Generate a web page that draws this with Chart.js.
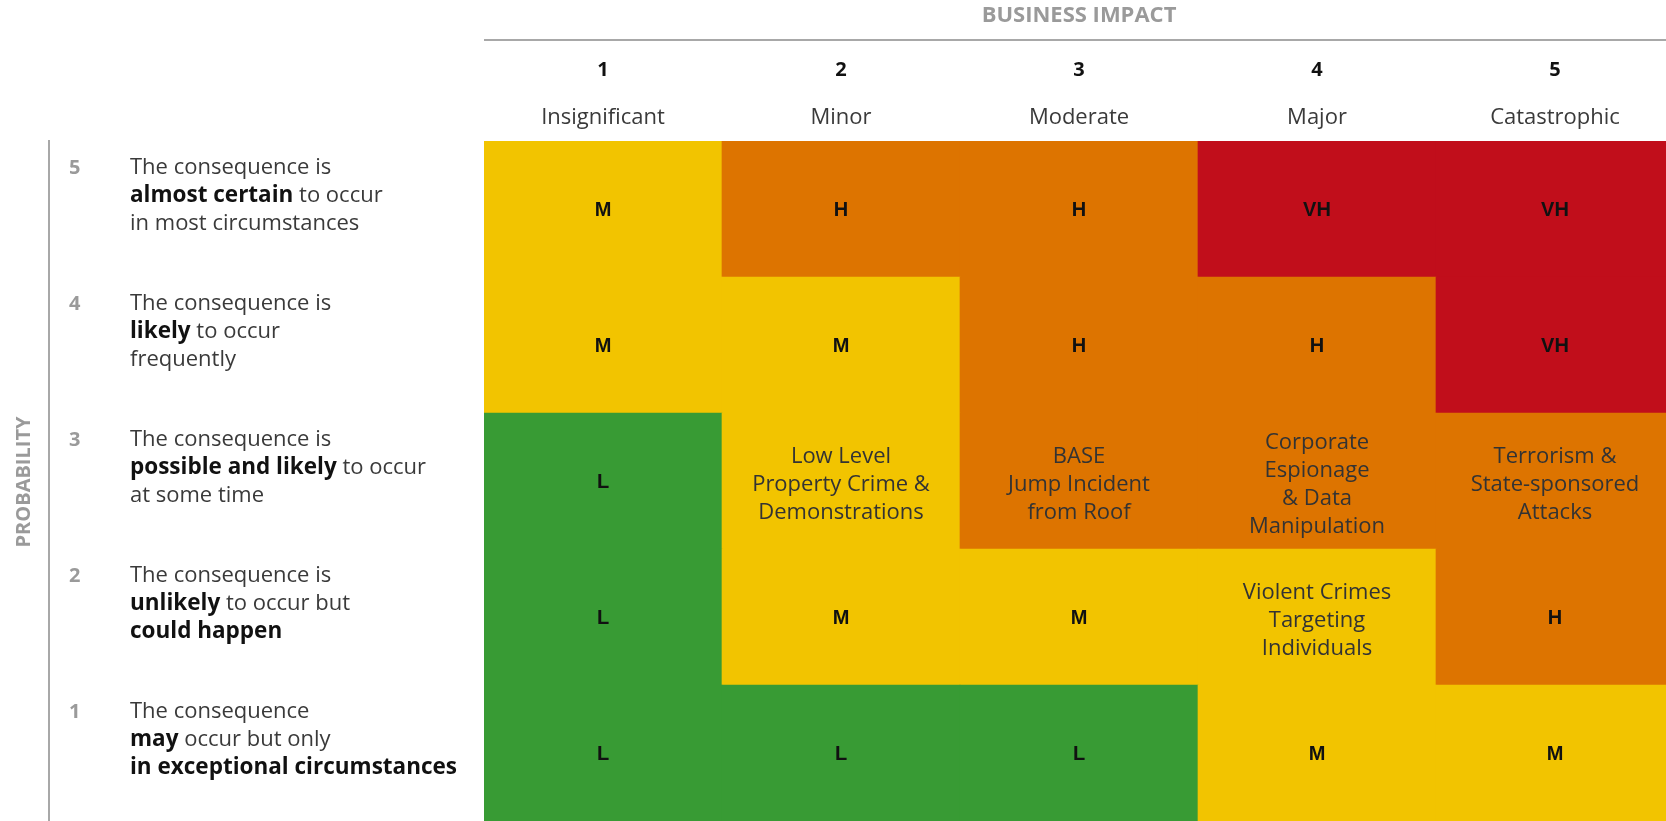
<!DOCTYPE html>
<html lang="en">
<head>
    <meta charset="UTF-8">
    <title>Risk Matrix</title>
    <script src="https://cdn.jsdelivr.net/npm/chart.js"></script>
    <style>
        body {
            margin: 0;
            background: #fff;
            overflow: hidden;
        }
        canvas {
            display: block;
        }
    </style>
</head>
<body>
    <canvas id="matriz" width="1674" height="821"></canvas>

    <script>
        // business impact (columns)
        const impactNumbers = ['1', '2', '3', '4', '5'];
        const impactNames = ['Insignificant', 'Minor', 'Moderate', 'Major', 'Catastrophic'];

        // probability (rows), 1 = bottom
        const probabilityNumbers = ['1', '2', '3', '4', '5'];
        const descP1 = ['The consequence', '**may** occur but only', '**in exceptional circumstances**'];
        const descP2 = ['The consequence is', '**unlikely** to occur but', '**could happen**'];
        const descP3 = ['The consequence is', '**possible and likely** to occur', 'at some time'];
        const descP4 = ['The consequence is', '**likely** to occur', 'frequently'];
        const descP5 = ['The consequence is', '**almost certain** to occur', 'in most circumstances'];

        // rating of each cell, one list per probability row
        const ratingsP1 = ['L', 'L', 'L', 'M', 'M'];
        const ratingsP2 = ['L', 'M', 'M', 'M', 'H'];
        const ratingsP3 = ['L', 'M', 'H', 'H', 'H'];
        const ratingsP4 = ['M', 'M', 'H', 'H', 'VH'];
        const ratingsP5 = ['M', 'H', 'H', 'VH', 'VH'];

        // scenarios written in place of the rating
        const scenariosP1 = ['', '', '', '', ''];
        const scenariosP2 = ['', '', '', 'Violent Crimes\nTargeting\nIndividuals', ''];
        const scenariosP3 = ['', 'Low Level\nProperty Crime &\nDemonstrations', 'BASE\nJump Incident\nfrom Roof', 'Corporate\nEspionage\n& Data\nManipulation', 'Terrorism &\nState-sponsored\nAttacks'];
        const scenariosP4 = ['', '', '', '', ''];
        const scenariosP5 = ['', '', '', '', ''];

        const cellValue = [1, 1, 1, 1, 1];

        const coresRisco = {
            L: '#389b34',
            M: '#f2c400',
            H: '#dd7400',
            VH: '#c10e1b'
        };

        const linhas = [
            { ratings: ratingsP1, scenarios: scenariosP1, desc: descP1 },
            { ratings: ratingsP2, scenarios: scenariosP2, desc: descP2 },
            { ratings: ratingsP3, scenarios: scenariosP3, desc: descP3 },
            { ratings: ratingsP4, scenarios: scenariosP4, desc: descP4 },
            { ratings: ratingsP5, scenarios: scenariosP5, desc: descP5 }
        ];

        const textFont = '"Open Sans", "Noto Sans", sans-serif';

        // draws a line with **bold** parts
        function drawRich(ctx, line, x, y) {
            const parts = line.split('**');
            let cx = x;
            parts.forEach(function(p, i) {
                if (!p) return;
                const bold = i % 2 === 1;
                ctx.font = (bold ? 'bold 22.5px ' : '22px ') + textFont;
                ctx.fillStyle = bold ? '#111' : '#3a3a3a';
                ctx.fillText(p, cx, y);
                cx += ctx.measureText(p).width;
            });
        }

        const labelsPlugin = {
            id: 'matrixLabels',
            afterDatasetsDraw(chart) {
                const ctx = chart.ctx;
                const area = chart.chartArea;
                const xs = chart.scales.x;
                const ys = chart.scales.y;
                ctx.save();

                // cell texts
                ctx.textAlign = 'center';
                ctx.textBaseline = 'middle';
                chart.data.datasets.forEach(function(ds, i) {
                    const meta = chart.getDatasetMeta(i);
                    meta.data.forEach(function(bar, j) {
                        const c = bar.getCenterPoint();
                        const scen = linhas[i].scenarios[j];
                        if (scen) {
                            const ls = scen.split('\n');
                            ctx.font = '22px ' + textFont;
                            ctx.fillStyle = '#333';
                            ls.forEach(function(t, k) {
                                ctx.fillText(t, c.x, c.y + 4 + (k - (ls.length - 1) / 2) * 28);
                            });
                        } else {
                            ctx.font = 'bold 20px "Liberation Sans", Arial, sans-serif';
                            ctx.fillStyle = '#111';
                            ctx.fillText(linhas[i].ratings[j], c.x, c.y + 1);
                        }
                    });
                });

                // column header
                ctx.fillStyle = '#9a9a9a';
                ctx.font = 'bold 22px ' + textFont;
                ctx.fillText('BUSINESS IMPACT', (area.left + area.right) / 2, 16);

                ctx.strokeStyle = '#a8a8a8';
                ctx.lineWidth = 2;
                ctx.beginPath();
                ctx.moveTo(area.left, 40);
                ctx.lineTo(chart.width, 40);
                ctx.stroke();

                impactNumbers.forEach(function(n, j) {
                    const x = xs.getPixelForValue(j);
                    ctx.fillStyle = '#111';
                    ctx.font = 'bold 20px ' + textFont;
                    ctx.fillText(n, x, 70);
                    ctx.fillStyle = '#3a3a3a';
                    ctx.font = '22px ' + textFont;
                    ctx.fillText(impactNames[j], x, 118);
                });

                // probability axis
                ctx.strokeStyle = '#a8a8a8';
                ctx.beginPath();
                ctx.moveTo(49, area.top - 1);
                ctx.lineTo(49, chart.height);
                ctx.stroke();

                ctx.save();
                ctx.translate(24, 482);
                ctx.rotate(-Math.PI / 2);
                ctx.fillStyle = '#9a9a9a';
                ctx.font = 'bold 20px ' + textFont;
                ctx.fillText('PROBABILITY', 0, 0);
                ctx.restore();

                ctx.textAlign = 'left';
                linhas.forEach(function(linha, i) {
                    const top = ys.getPixelForValue(i + 1);
                    ctx.fillStyle = '#9a9a9a';
                    ctx.font = 'bold 20px ' + textFont;
                    ctx.fillText(probabilityNumbers[i], 69, top + 27);
                    linha.desc.forEach(function(l, k) {
                        drawRich(ctx, l, 130, top + 27 + k * 28);
                    });
                });

                ctx.restore();
            }
        };

        const ctx = document.getElementById('matriz').getContext('2d');

        const chart = new Chart(ctx, {
            type: 'bar',
            data: {
                labels: impactNames,
                datasets: linhas.map(function(linha, i) {
                    return {
                        label: 'Probability ' + probabilityNumbers[i],
                        data: cellValue,
                        backgroundColor: linha.ratings.map(function(r) { return coresRisco[r]; }),
                        borderWidth: 0,
                        categoryPercentage: 1,
                        barPercentage: 1
                    };
                })
            },
            options: {
                responsive: false,
                animation: false,
                layout: {
                    padding: { left: 484, top: 141, right: 0, bottom: 0 }
                },
                plugins: {
                    legend: { display: false },
                    tooltip: { enabled: false }
                },
                scales: {
                    x: { stacked: true, display: false },
                    y: { stacked: true, display: false, min: 0, max: 5 }
                }
            },
            plugins: [labelsPlugin]
        });
    </script>
</body>
</html>
